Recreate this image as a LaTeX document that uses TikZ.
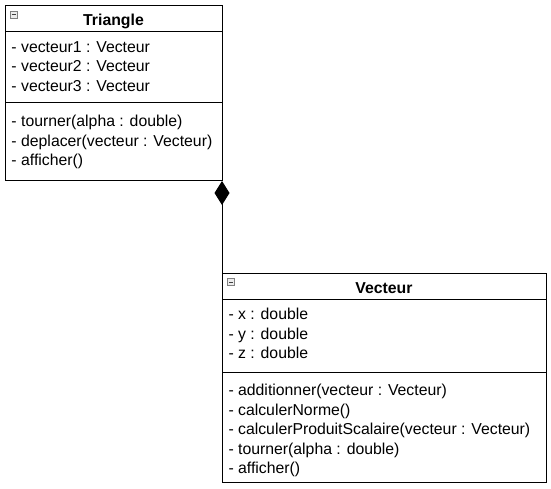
\documentclass[tikz,border=0pt]{standalone}
\usepackage{fontspec}
\setmainfont{Liberation Sans}
\usetikzlibrary{arrows.meta}

\newcommand{\umlfont}{\fontsize{15.8}{19.6}\selectfont}

\tikzset{
  classbox/.style={draw, rectangle, anchor=north west, inner sep=0pt, outer sep=0pt},
  classname/.style={anchor=base, inner sep=0pt, font=\umlfont\bfseries},
  member/.style={anchor=base west, inner sep=0pt, font=\umlfont},
  foldicon/.style={draw=gray, fill=gray!15, line width=0.8pt, minimum size=7pt, inner sep=0pt,
    path picture={\draw[black!75, line width=1pt] ([xshift=1.5pt]path picture bounding box.west) -- ([xshift=-1.5pt]path picture bounding box.east);}}
}

\begin{document}
\begin{tikzpicture}[x=1pt,y=-1pt,line width=1pt]
\useasboundingbox (0,0) rectangle (551,489);

% Triangle
\node[classbox, minimum width=217pt, minimum height=175pt] (triangle) at (5,6) {};
\draw (triangle.west |- 0,32) -- (triangle.east |- 0,32);
\draw (triangle.west |- 0,103) -- (triangle.east |- 0,103);
\node[foldicon] (triangleicon) at (13.5,15) {};
\node[classname] (trianglename) at (113.5,25.5) {Triangle};
\node[member] (triangleattr1) at (11,52.5) {- vecteur1 : Vecteur};
\node[member] (triangleattr2) at (11,72) {- vecteur2 : Vecteur};
\node[member] (triangleattr3) at (11,91.5) {- vecteur3 : Vecteur};
\node[member] (triangleop1) at (11,127) {- tourner(alpha : double)};
\node[member] (triangleop2) at (11,146.5) {- deplacer(vecteur : Vecteur)};
\node[member] (triangleop3) at (11,166) {- afficher()};

% Vecteur
\node[classbox, minimum width=324pt, minimum height=209pt] (vecteur) at (222,273) {};
\draw (vecteur.west |- 0,299) -- (vecteur.east |- 0,299);
\draw (vecteur.west |- 0,372) -- (vecteur.east |- 0,372);
\node[foldicon] (vecteuricon) at (231,282) {};
\node[classname] (vecteurname) at (384,293.5) {Vecteur};
\node[member] (vecteurattr1) at (228,319.5) {- x : double};
\node[member] (vecteurattr2) at (228,339) {- y : double};
\node[member] (vecteurattr3) at (228,358.5) {- z : double};
\node[member] (vecteurop1) at (228,395.5) {- additionner(vecteur : Vecteur)};
\node[member] (vecteurop2) at (228,415) {- calculerNorme()};
\node[member] (vecteurop3) at (228,434.5) {- calculerProduitScalaire(vecteur : Vecteur)};
\node[member] (vecteurop4) at (228,454) {- tourner(alpha : double)};
\node[member] (vecteurop5) at (228,473.5) {- afficher()};

% composition
\draw[{Diamond[length=24pt,width=15pt]}-] (triangle.south east) -- (vecteur.north west);
\end{tikzpicture}
\end{document}
